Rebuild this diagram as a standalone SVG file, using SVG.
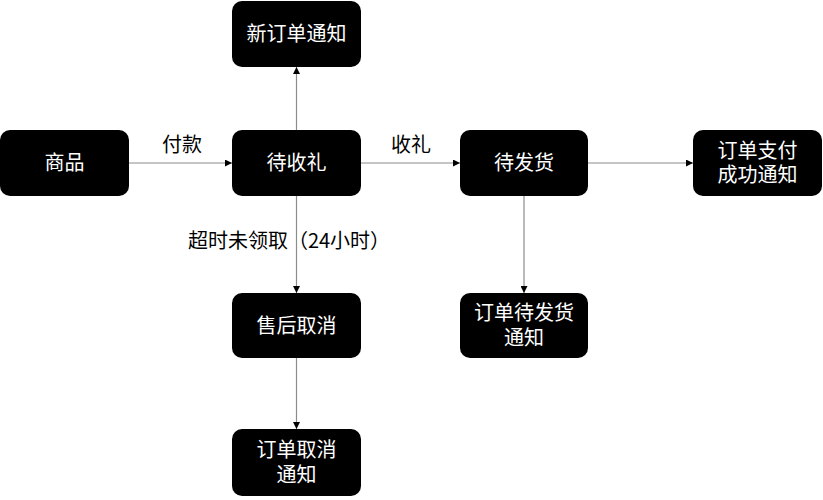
<svg xmlns="http://www.w3.org/2000/svg" width="823" height="500" viewBox="0 0 823 500">
<style>
.node rect{fill:#000;}
.node text,.lbl{font-family:"Noto Sans CJK SC","Liberation Sans",sans-serif;font-size:20px;text-anchor:middle;}
.node text{fill:#fff;}
.lbl{fill:#000;}
.edge{stroke:#8c8c8c;stroke-width:1.2;fill:none;marker-end:url(#ah);}
</style>
<defs>
<marker id="ah" viewBox="0 0 10 10" refX="10" refY="5" markerWidth="7" markerHeight="7" markerUnits="userSpaceOnUse" orient="auto">
<path d="M0,0 L10,5 L0,10 Z" fill="#000"/>
</marker>
</defs>
<rect width="823" height="500" fill="#fff"/>
<g id="connectors">
<line class="edge" x1="129" y1="163" x2="232" y2="163"/>
<line class="edge" x1="296.5" y1="130" x2="296.5" y2="67"/>
<line class="edge" x1="361" y1="163" x2="460" y2="163"/>
<line class="edge" x1="588" y1="163" x2="693" y2="163"/>
<line class="edge" x1="296.5" y1="196" x2="296.5" y2="293"/>
<line class="edge" x1="524" y1="196" x2="524" y2="293"/>
<line class="edge" x1="296.5" y1="358" x2="296.5" y2="429"/>
<text class="lbl" x="182" y="152">付款</text>
<text class="lbl" x="411" y="152">收礼</text>
<text class="lbl" x="289" y="248">超时未领取（24小时）</text>
</g>
<g id="n_goods" class="node"><rect x="0" y="130" width="129" height="66" rx="10"/><text x="64.5" y="170">商品</text></g>
<g id="n_neworder" class="node"><rect x="232" y="1" width="129" height="66" rx="10"/><text x="296.5" y="41">新订单通知</text></g>
<g id="n_wait_recv" class="node"><rect x="232" y="130" width="129" height="66" rx="10"/><text x="296.5" y="170">待收礼</text></g>
<g id="n_wait_ship" class="node"><rect x="460" y="130" width="128" height="66" rx="10"/><text x="524" y="170">待发货</text></g>
<g id="n_paid" class="node"><rect x="693" y="130" width="129" height="66" rx="10"/><text x="757.5" y="157.75">订单支付<tspan x="757.5" dy="24.5">成功通知</tspan></text></g>
<g id="n_ship_notice" class="node"><rect x="460" y="293" width="128" height="65" rx="10"/><text x="524" y="320.25">订单待发货<tspan x="524" dy="24.5">通知</tspan></text></g>
<g id="n_cancel" class="node"><rect x="232" y="293" width="129" height="65" rx="10"/><text x="296.5" y="332.5">售后取消</text></g>
<g id="n_cancel_notice" class="node"><rect x="232" y="429" width="129" height="67" rx="10"/><text x="296.5" y="457.25">订单取消<tspan x="296.5" dy="24.5">通知</tspan></text></g>
</svg>
